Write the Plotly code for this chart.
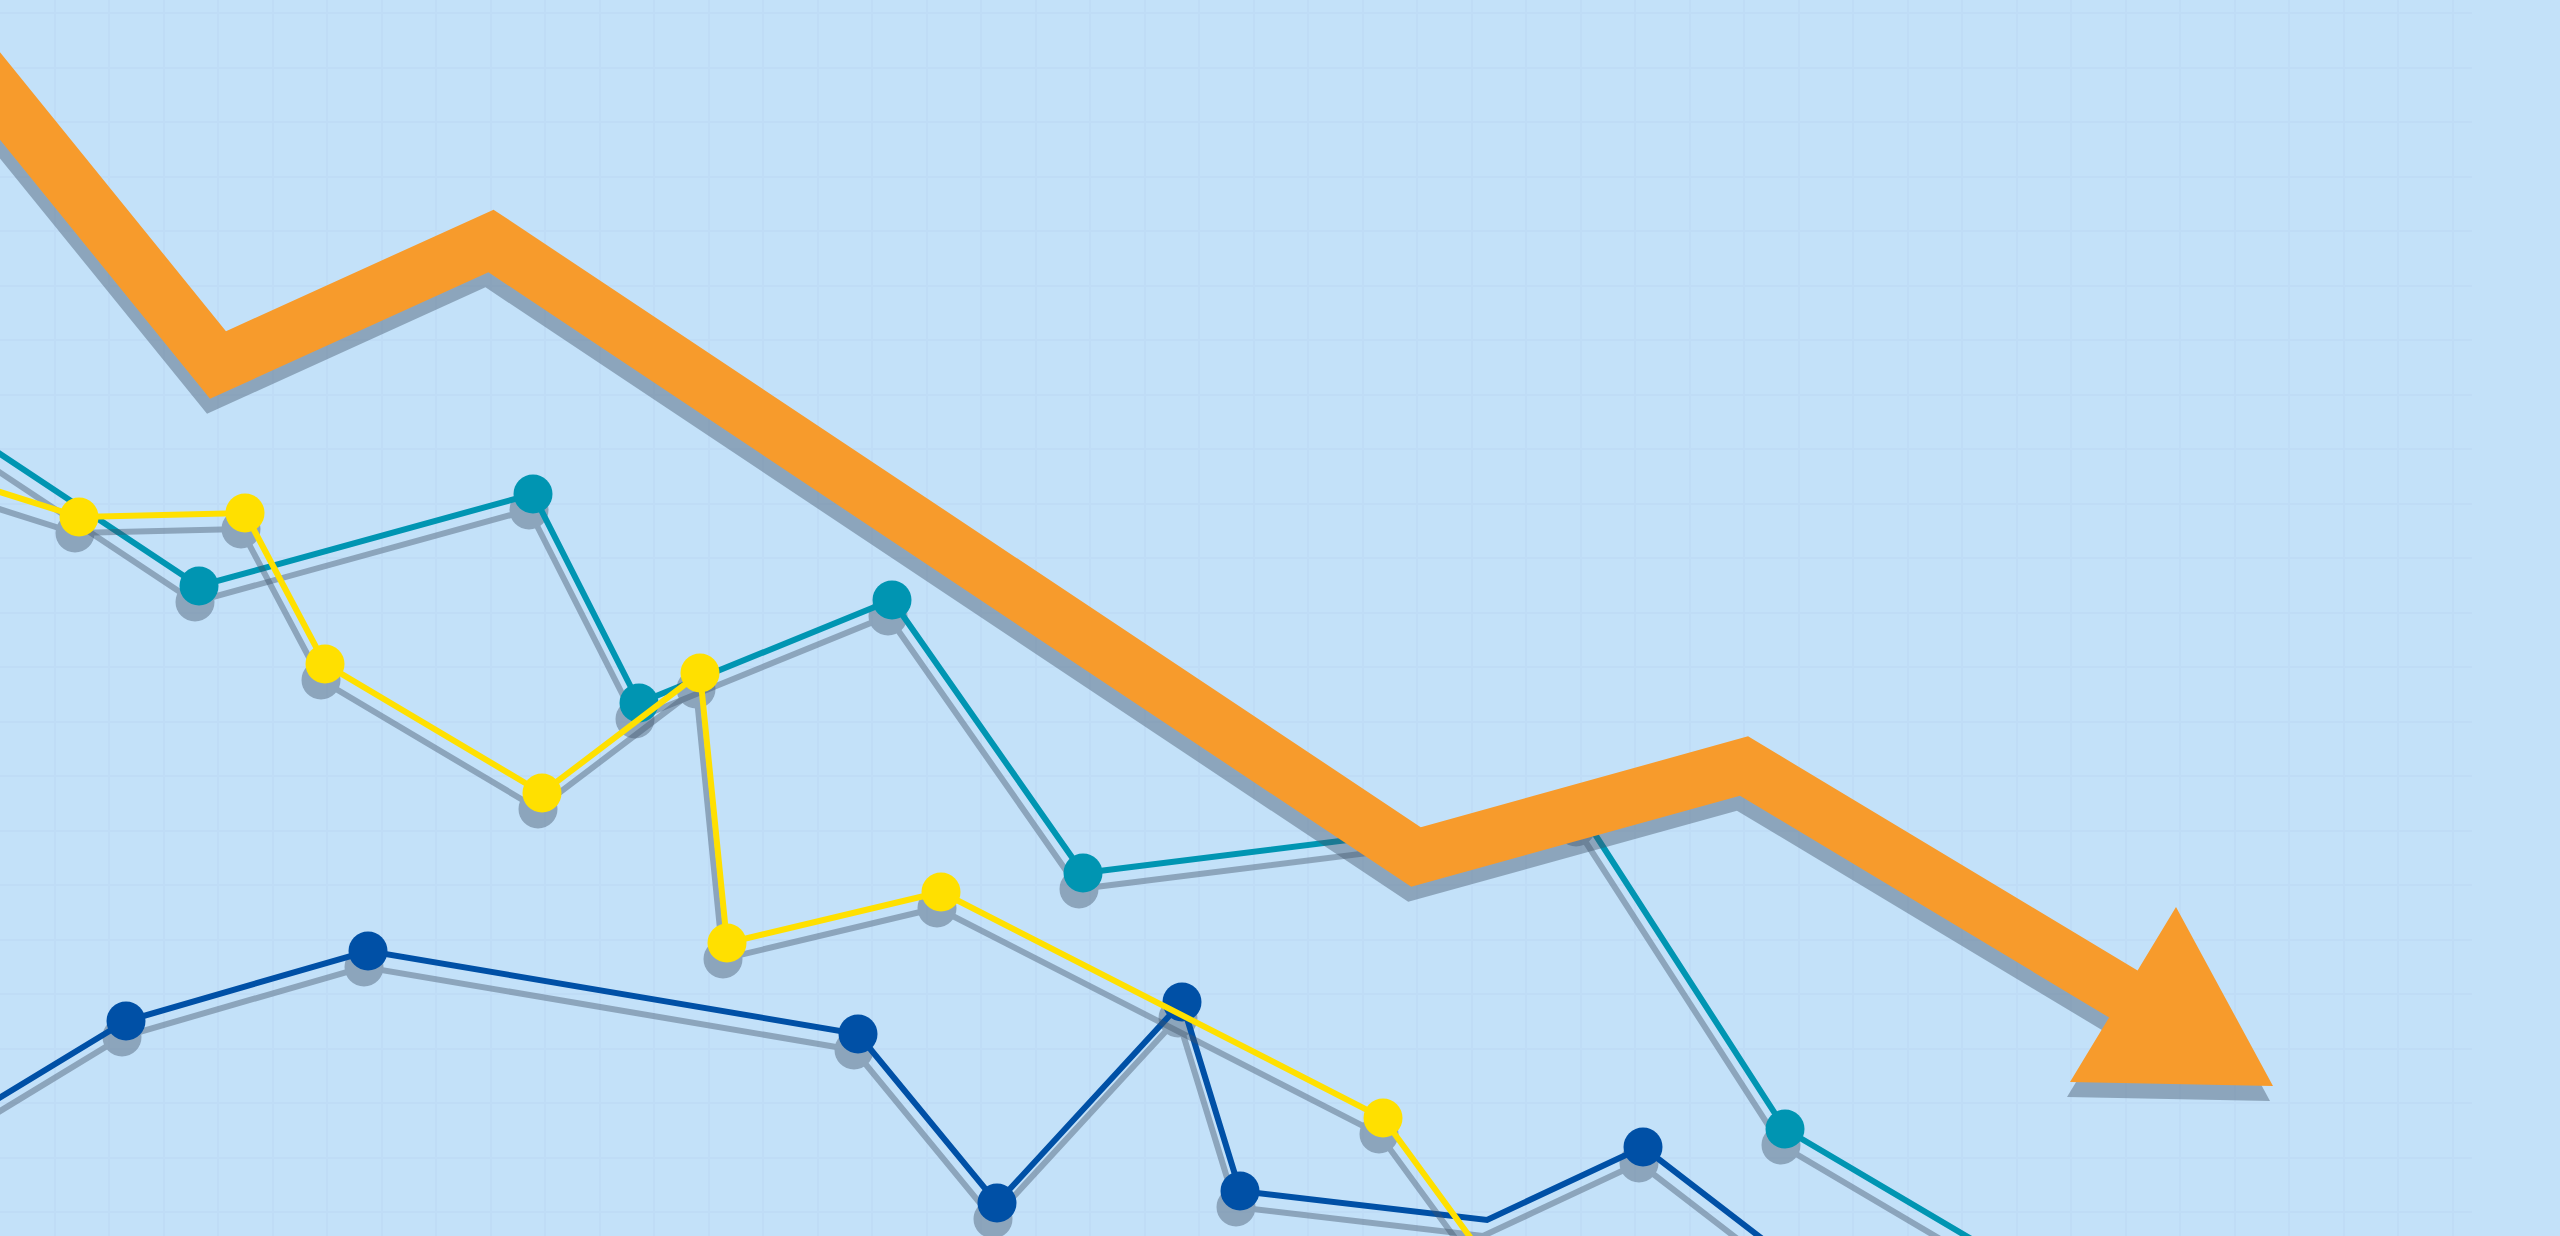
import plotly.graph_objects as go

# ---- data (in canvas pixel units) ----
blue_x = [-60, 126, 368, 858, 997, 1182, 1240, 1487, 1643, 1800]
blue_y = [1134, 1021, 951, 1034, 1203, 1002, 1191, 1220, 1147, 1268]
blue_marker = [39, 39, 39, 39, 39, 39, 39, 0, 39, 39]

teal_x = [-60, 199, 533, 639, 892, 1083, 1580, 1785, 2000]
teal_y = [414, 586, 494, 703, 600, 873, 811, 1129, 1256]

yellow_x = [-60, 79, 245, 325, 542, 700, 727, 941, 1383, 1500]
yellow_y = [473, 517, 513, 664, 793, 673, 943, 892, 1118, 1278]

trend_x = [-60, 218, 491, 1416, 1744, 2160]
trend_y = [22, 365, 241, 857, 766, 1016]
head_x = [2176, 2273, 2070]
head_y = [907, 1086, 1082]

# ---- style ----
BG = "#c3e1f9"
GRID = "#bfdcf6"
ORANGE = "#f79b2c"
TEAL = "#0095b2"
BLUE = "#0050a6"
YELLOW = "#ffe000"
SHADOW = "#40536a"
SHADOW_OPACITY = 0.42
SDX, SDY = -4, 16
ODX, ODY = -3, 15
BAND = 55
LW = 6
MS = 39
W, H = 2560, 1236
GRID_W = 2472


def intersect(p, d, q, e):
    # p + t d = q + s e
    den = d[0] * (-e[1]) - d[1] * (-e[0])
    rx, ry = q[0] - p[0], q[1] - p[1]
    t = (rx * (-e[1]) - ry * (-e[0])) / den
    return (p[0] + t * d[0], p[1] + t * d[1])


def arrow_polygon(xs, ys, width, hx, hy):
    half = width / 2.0
    pts = list(zip(xs, ys))
    dirs = []
    for (x0, y0), (x1, y1) in zip(pts[:-1], pts[1:]):
        dx, dy = x1 - x0, y1 - y0
        L = (dx * dx + dy * dy) ** 0.5
        dirs.append((dx / L, dy / L))
    norms = [(-dy, dx) for dx, dy in dirs]
    low, up = [], []
    for i, (px, py) in enumerate(pts[:-1]):
        if i == 0:
            mx, my = norms[0]
        else:
            a, b = norms[i - 1], norms[i]
            dot = a[0] * b[0] + a[1] * b[1]
            mx, my = (a[0] + b[0]) / (1 + dot), (a[1] + b[1]) / (1 + dot)
        low.append((px + mx * half, py + my * half))
        up.append((px - mx * half, py - my * half))
    apex, rb, lb = (hx[0], hy[0]), (hx[1], hy[1]), (hx[2], hy[2])
    edge = (lb[0] - apex[0], lb[1] - apex[1])
    T = intersect(up[-1], dirs[-1], apex, edge)
    B = intersect(low[-1], dirs[-1], apex, edge)
    poly = up + [T, apex, rb, lb, B] + low[::-1] + [up[0]]
    return [p[0] for p in poly], [p[1] for p in poly]


ax_, ay_ = arrow_polygon(trend_x, trend_y, BAND, head_x, head_y)

fig = go.Figure()


def add_series(xs, ys, color, sizes):
    fig.add_trace(go.Scatter(
        x=[v + SDX for v in xs], y=[v + SDY for v in ys],
        mode="lines+markers",
        line=dict(color=SHADOW, width=LW),
        marker=dict(color=SHADOW, size=sizes, opacity=1, line=dict(width=0)),
        opacity=SHADOW_OPACITY, hoverinfo="skip"))
    fig.add_trace(go.Scatter(
        x=xs, y=ys, mode="lines+markers",
        line=dict(color=color, width=LW),
        marker=dict(color=color, size=sizes, opacity=1, line=dict(width=0)),
        hoverinfo="skip"))


add_series(blue_x, blue_y, BLUE, blue_marker)
add_series(teal_x, teal_y, TEAL, MS)
add_series(yellow_x, yellow_y, YELLOW, MS)

# orange trend arrow: shadow then arrow
fig.add_trace(go.Scatter(
    x=[v + ODX for v in ax_], y=[v + ODY for v in ay_],
    mode="lines", fill="toself", fillcolor=SHADOW,
    line=dict(width=0, color=SHADOW), opacity=SHADOW_OPACITY,
    hoverinfo="skip"))
fig.add_trace(go.Scatter(
    x=ax_, y=ay_,
    mode="lines", fill="toself", fillcolor=ORANGE,
    line=dict(width=0, color=ORANGE), hoverinfo="skip"))

axis_common = dict(showticklabels=False, ticks="", zeroline=False,
                   showline=False, showgrid=True, gridcolor=GRID,
                   gridwidth=2, dtick=54.5, fixedrange=True)
fig.update_layout(
    width=W, height=H,
    margin=dict(l=0, r=0, t=0, b=0, pad=0),
    paper_bgcolor=BG, plot_bgcolor=BG,
    showlegend=False, hovermode=False,
    xaxis=dict(range=[0, GRID_W], domain=[0, GRID_W / W], tick0=0,
               **axis_common),
    yaxis=dict(range=[H, 0], domain=[0, 1], tick0=13, **axis_common),
)

fig.write_html(
    "out.html",
    config={"displayModeBar": False, "staticPlot": True},
    post_script="document.body.style.margin='0px';document.body.style.overflow='hidden';",
)
